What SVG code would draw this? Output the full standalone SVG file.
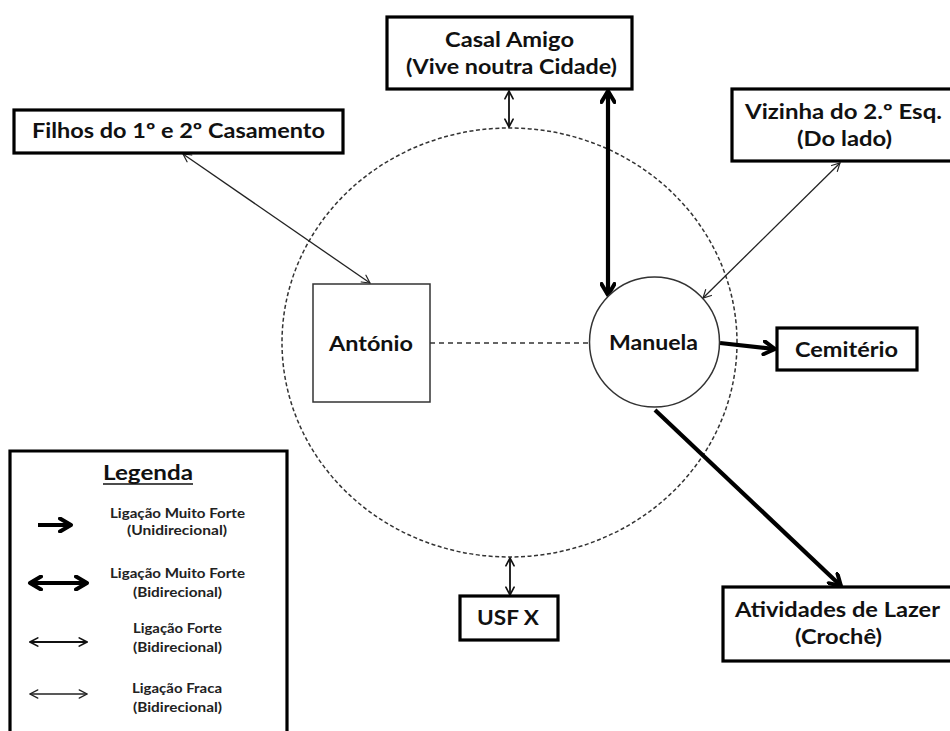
<svg xmlns="http://www.w3.org/2000/svg" width="950" height="731" viewBox="0 0 950 731">
<style>
  .box { fill: #fff; stroke: #000; stroke-width: 3.2; }
  .lbl { font-family: Lato, "Open Sans", "Liberation Sans", sans-serif; font-weight: bold; font-size: 20px; fill: #111; text-anchor: middle; }
  .leg { font-family: Lato, "Open Sans", "Liberation Sans", sans-serif; font-weight: bold; font-size: 14px; fill: #222; text-anchor: middle; }
  .thick { stroke: #000; stroke-width: 4.2; fill: none; }
  .med { stroke: #111; stroke-width: 1.8; fill: none; }
  .thin { stroke: #222; stroke-width: 1.3; fill: none; }
</style>
<defs>
  <marker id="hThick" viewBox="0 0 16 16" refX="13" refY="8" markerWidth="16" markerHeight="16" markerUnits="userSpaceOnUse" orient="auto-start-reverse">
    <path d="M2,1.5 L13,8 L2,14.5" fill="none" stroke="#000" stroke-width="4" stroke-linecap="round" stroke-linejoin="round"/>
  </marker>
  <marker id="hMed" viewBox="0 0 12 12" refX="10.5" refY="6" markerWidth="11" markerHeight="11" markerUnits="userSpaceOnUse" orient="auto-start-reverse">
    <path d="M2,1.5 L10.5,6 L2,10.5" fill="none" stroke="#111" stroke-width="1.8" stroke-linecap="round"/>
  </marker>
  <marker id="hThin" viewBox="0 0 12 12" refX="10.5" refY="6" markerWidth="11" markerHeight="11" markerUnits="userSpaceOnUse" orient="auto-start-reverse">
    <path d="M2,1.5 L10.5,6 L2,10.5" fill="none" stroke="#222" stroke-width="1.3" stroke-linecap="round"/>
  </marker>
</defs>
<rect width="950" height="731" fill="#fff"/>

<!-- family boundary -->
<ellipse id="boundary" cx="509.5" cy="342.5" rx="227.5" ry="214.5" fill="none" stroke="#333" stroke-width="1.5" stroke-dasharray="4 2.5"/>

<g id="connectors">
  <line class="thin" x1="183" y1="154" x2="370" y2="283" marker-start="url(#hThin)" marker-end="url(#hThin)"/>
  <line class="med" x1="509" y1="91" x2="509" y2="127" marker-start="url(#hMed)" marker-end="url(#hMed)"/>
  <line class="thick" x1="608" y1="91" x2="608" y2="295" marker-start="url(#hThick)" marker-end="url(#hThick)"/>
  <line class="thin" x1="840" y1="163" x2="703" y2="298" marker-start="url(#hThin)" marker-end="url(#hThin)"/>
  <line x1="430" y1="343" x2="589" y2="343" stroke="#333" stroke-width="1.5" stroke-dasharray="5 4"/>
  <line class="thick" x1="720" y1="343" x2="775" y2="349" marker-end="url(#hThick)"/>
  <line class="thick" x1="655" y1="410" x2="841" y2="586" marker-end="url(#hThick)"/>
  <line class="med" x1="510" y1="558" x2="510" y2="595" marker-start="url(#hMed)" marker-end="url(#hMed)"/>
</g>

<g id="filhos">
  <rect class="box" x="14" y="110" width="329" height="43"/>
  <text class="lbl" x="178.5" y="138" textLength="293" lengthAdjust="spacingAndGlyphs">Filhos do 1º e 2º Casamento</text>
</g>

<g id="casal-amigo">
  <rect class="box" x="387" y="17" width="245" height="72"/>
  <text class="lbl" x="509.5" y="47" textLength="129" lengthAdjust="spacingAndGlyphs">Casal Amigo</text>
  <text class="lbl" x="511.5" y="74" textLength="211" lengthAdjust="spacingAndGlyphs">(Vive noutra Cidade)</text>
</g>

<g id="vizinha">
  <rect class="box" x="732" y="89" width="230" height="72"/>
  <text class="lbl" x="843.5" y="119" textLength="197" lengthAdjust="spacingAndGlyphs">Vizinha do 2.º Esq.</text>
  <text class="lbl" x="844.5" y="146" textLength="95" lengthAdjust="spacingAndGlyphs">(Do lado)</text>
</g>

<g id="antonio">
  <rect x="313" y="284" width="117" height="118" fill="#fff" stroke="#333" stroke-width="1.5"/>
  <text class="lbl" x="371" y="351" textLength="84" lengthAdjust="spacingAndGlyphs">António</text>
</g>

<g id="manuela">
  <circle cx="654.5" cy="342" r="65" fill="#fff" stroke="#333" stroke-width="1.5"/>
  <text class="lbl" x="653.5" y="350" textLength="89" lengthAdjust="spacingAndGlyphs">Manuela</text>
</g>

<g id="cemiterio">
  <rect class="box" x="777" y="328" width="140" height="42"/>
  <text class="lbl" x="846.5" y="357" textLength="103" lengthAdjust="spacingAndGlyphs">Cemitério</text>
</g>

<g id="usf">
  <rect class="box" x="460" y="596" width="98" height="44"/>
  <text class="lbl" x="508" y="625" textLength="62" lengthAdjust="spacingAndGlyphs">USF X</text>
</g>

<g id="atividades">
  <rect class="box" x="723" y="587" width="240" height="74"/>
  <text class="lbl" x="837.5" y="617" textLength="205" lengthAdjust="spacingAndGlyphs">Atividades de Lazer</text>
  <text class="lbl" x="838.5" y="644" textLength="87" lengthAdjust="spacingAndGlyphs">(Crochê)</text>
</g>

<g id="legenda">
  <path d="M10,740 L10,451 L287,451 L287,740" fill="none" stroke="#000" stroke-width="3.2"/>
  <text class="lbl" x="148" y="480" font-size="21" textLength="90" lengthAdjust="spacingAndGlyphs">Legenda</text>
  <line x1="103" y1="484" x2="193" y2="484" stroke="#111" stroke-width="1.5"/>

  <line class="thick" x1="38" y1="525" x2="71" y2="525" marker-end="url(#hThick)"/>
  <text class="leg" x="177.5" y="518" textLength="135" lengthAdjust="spacingAndGlyphs">Ligação Muito Forte</text>
  <text class="leg" x="177" y="535" textLength="100" lengthAdjust="spacingAndGlyphs">(Unidirecional)</text>

  <line class="thick" x1="30" y1="583" x2="87" y2="583" marker-start="url(#hThick)" marker-end="url(#hThick)"/>
  <text class="leg" x="177.5" y="578" textLength="135" lengthAdjust="spacingAndGlyphs">Ligação Muito Forte</text>
  <text class="leg" x="177.5" y="597" textLength="89" lengthAdjust="spacingAndGlyphs">(Bidirecional)</text>

  <line class="med" x1="30" y1="642" x2="87" y2="642" marker-start="url(#hMed)" marker-end="url(#hMed)"/>
  <text class="leg" x="177.5" y="633" textLength="89" lengthAdjust="spacingAndGlyphs">Ligação Forte</text>
  <text class="leg" x="177.5" y="652" textLength="89" lengthAdjust="spacingAndGlyphs">(Bidirecional)</text>

  <line class="thin" x1="30" y1="694" x2="87" y2="694" marker-start="url(#hThin)" marker-end="url(#hThin)"/>
  <text class="leg" x="177" y="693" textLength="90" lengthAdjust="spacingAndGlyphs">Ligação Fraca</text>
  <text class="leg" x="177.5" y="712" textLength="89" lengthAdjust="spacingAndGlyphs">(Bidirecional)</text>
</g>
</svg>
